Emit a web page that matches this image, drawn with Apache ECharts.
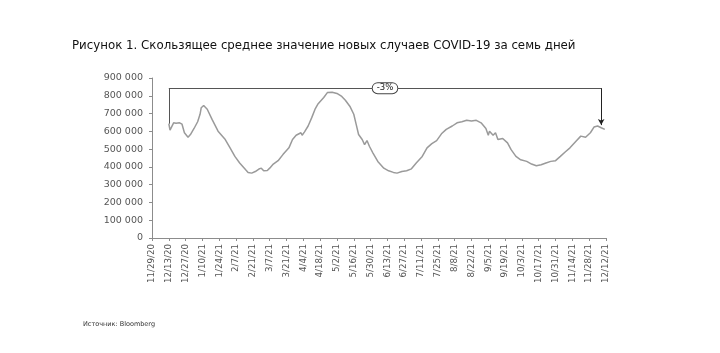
<!DOCTYPE html>
<html>
<head>
<meta charset="utf-8">
<script src="https://cdn.jsdelivr.net/npm/echarts@6/dist/echarts.min.js"></script>
<style>
  html, body { margin: 0; padding: 0; background: #fff; }
  #chart { width: 720px; height: 353px; }
</style>
</head>
<body>
<div id="chart"></div>
<script>
  // дни от 29.11.2020
  var days = [14,15,16,18,20,23,25,27,30,32,35,38,40,41,43,46,50,55,61,65,69,73,78,80,83,86,89,91,93,96,98,
    101,105,109,114,117,120,124,125,127,130,133,136,138,143,146,150,154,158,161,165,168,170,172,175,177,179,
    181,184,188,193,197,201,204,208,212,216,220,225,229,233,237,241,245,250,254,258,262,266,270,274,278,280,
    281,284,286,288,292,296,299,303,307,312,316,320,324,328,332,336,340,344,348,353,357,361,365,368,371,374,377];
  // тысяч случаев
  var cases = [643,607,612,648,645,648,640,592,567,582,616,654,696,733,745,724,667,601,554,507,459,422,384,369,365,374,388,
    393,378,380,393,416,435,469,507,554,578,592,578,597,630,677,728,752,790,818,820,813,796,775,738,696,639,582,554,525,548,
    516,478,431,393,378,369,365,374,378,389,422,459,507,531,548,586,611,630,648,654,662,658,662,648,616,578,
    601,578,592,554,560,535,497,459,440,431,416,406,412,422,431,435,459,484,507,544,573,567,592,624,630,620,611];

  var startDate = new Date(2020, 10, 29);
  var bracketStart = [14, 643000];
  var bracketEnd = [374, 635000];
  var bracketTop = 843000;
  var bracketLabel = '-3%';

  var seriesData = days.map(function (d, i) { return [d, cases[i] * 1000]; });

  function dayLabel(v) {
    var d = new Date(startDate.getTime());
    d.setDate(d.getDate() + v);
    return (d.getMonth() + 1) + '/' + d.getDate() + '/' + String(d.getFullYear()).slice(2);
  }

  var chart = echarts.init(document.getElementById('chart'));
  var axisColor = '#8c8c8c';
  var option = {
    animation: false,
    textStyle: { fontFamily: 'DejaVu Sans' },
    title: [{
      text: 'Рисунок 1. Скользящее среднее значение новых случаев COVID-19 за семь дней',
      left: 67, top: 35,
      textStyle: { fontFamily: 'DejaVu Sans', fontSize: 11.8, fontWeight: 'normal', color: '#111' }
    }, {
      text: 'Источник: Bloomberg',
      left: 78, top: 316,
      textStyle: { fontFamily: 'DejaVu Sans', fontSize: 6.5, fontWeight: 'normal', color: '#333' }
    }],
    grid: { left: 152, right: 114, top: 78, bottom: 115 },
    xAxis: {
      type: 'value',
      min: 0, max: 378, interval: 14,
      axisLine: { show: true, lineStyle: { color: axisColor } },
      axisTick: { show: true, length: 3, lineStyle: { color: axisColor } },
      splitLine: { show: false },
      axisLabel: {
        rotate: 90, margin: 6, fontSize: 8.7, color: '#555',
        formatter: dayLabel
      }
    },
    yAxis: {
      type: 'value',
      min: 0, max: 900000, interval: 100000,
      axisLine: { show: true, lineStyle: { color: axisColor } },
      axisTick: { show: true, length: 3, lineStyle: { color: axisColor } },
      splitLine: { show: false },
      axisLabel: {
        fontSize: 9.5, color: '#555', margin: 9,
        formatter: function (v) { return String(v).replace(/\B(?=(\d{3})+(?!\d))/g, ' '); }
      }
    },
    series: [{
      type: 'line',
      data: seriesData,
      symbol: 'none',
      lineStyle: { color: '#9a9a9a', width: 1.5 },
      markLine: {
        silent: true,
        symbol: ['none', 'none'],
        lineStyle: { color: '#555', width: 1, type: 'solid' },
        label: { show: false },
        data: [
          [{ coord: bracketStart }, { coord: [bracketStart[0], bracketTop] }],
          [{ coord: [bracketStart[0], bracketTop] }, {
            coord: [bracketEnd[0], bracketTop],
            label: {
              show: true, position: 'middle', formatter: bracketLabel,
              distance: 0, verticalAlign: 'middle',
              fontSize: 8.5, color: '#222', backgroundColor: '#fff',
              borderColor: '#444', borderWidth: 1, borderRadius: 7,
              padding: [1, 4, 0, 4]
            }
          }],
          [{ coord: [bracketEnd[0], bracketTop] }, {
            coord: bracketEnd, symbol: 'arrow', symbolSize: [5, 6],
            lineStyle: { color: '#222' }
          }]
        ]
      }
    }]
  };
  chart.setOption(option);
</script>
</body>
</html>
